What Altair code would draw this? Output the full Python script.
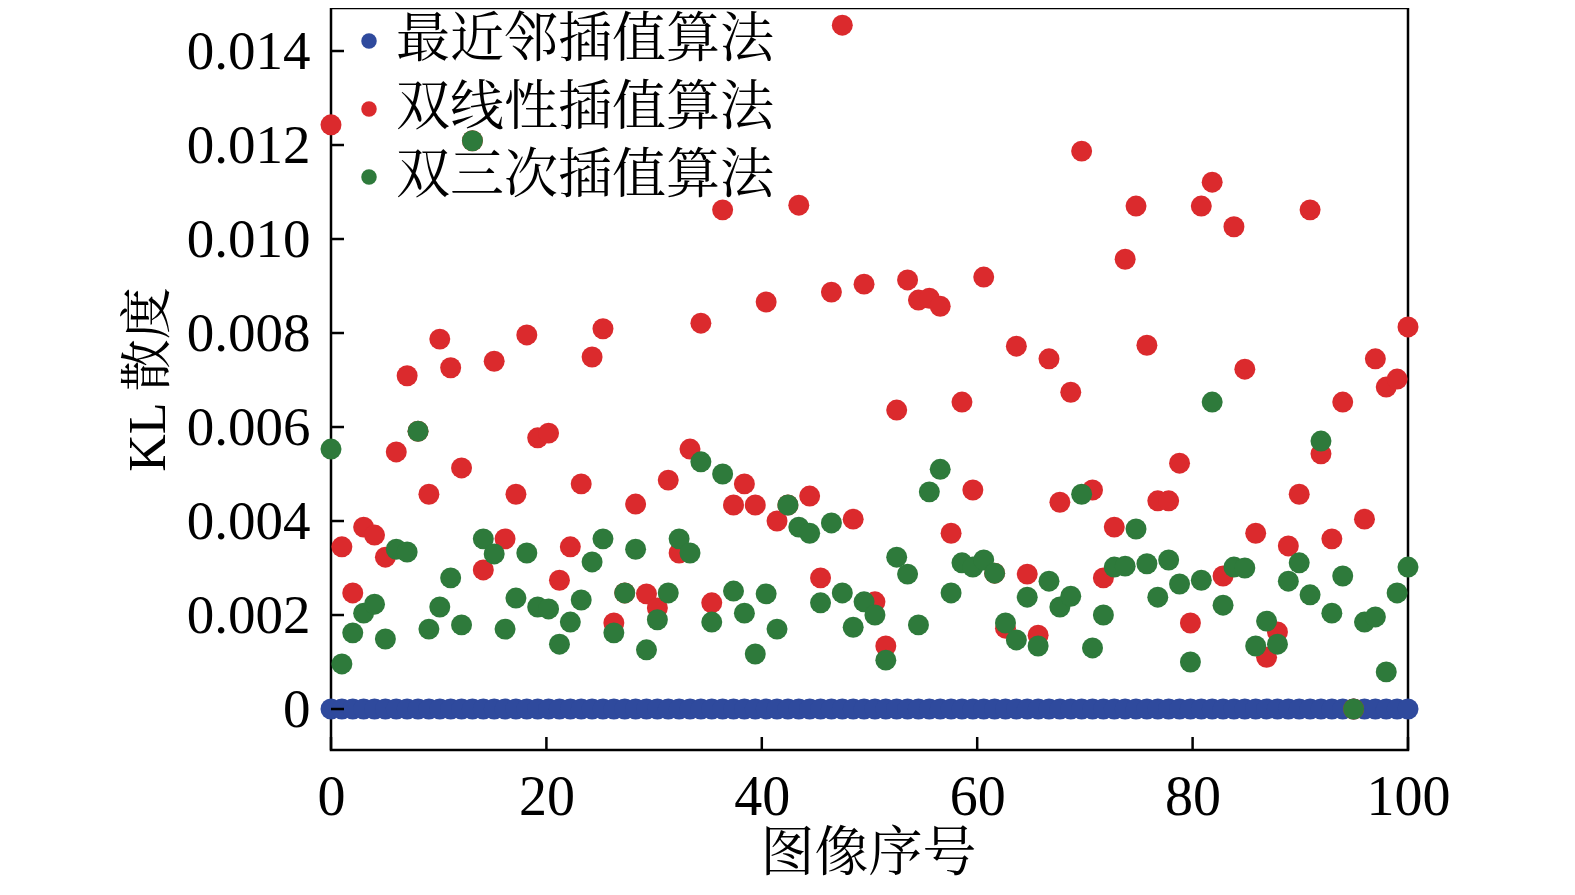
import altair as alt
import pandas as pd
import numpy as np

# ---- data ----
method_names = ["最近邻插值算法", "双线性插值算法", "双三次插值算法"]
method_colors = ["#2f4a9d", "#db2a2d", "#2e7a3b"]

nearest_vals = [0.0] * 100

bilinear_vals = [
    0.01243, 0.00345, 0.00247, 0.00387, 0.00370, 0.00323, 0.00547, 0.00709, 0.00591, 0.00457,
    0.00787, 0.00726, 0.00513, 0.01209, 0.00296, 0.00740, 0.00362, 0.00457, 0.00796, 0.00577,
    0.00587, 0.00274, 0.00345, 0.00479, 0.00749, 0.00809, 0.00183, 0.00247, 0.00436, 0.00245,
    0.00215, 0.00487, 0.00332, 0.00553, 0.00821, 0.00226, 0.01062, 0.00434, 0.00479, 0.00434,
    0.00866, 0.00400, 0.00434, 0.01072, 0.00453, 0.00279, 0.00887, 0.01455, 0.00404, 0.00904,
    0.00228, 0.00134, 0.00636, 0.00913, 0.00870, 0.00874, 0.00857, 0.00374, 0.00653, 0.00466,
    0.00919, 0.00289, 0.00172, 0.00772, 0.00287, 0.00157, 0.00745, 0.00440, 0.00674, 0.01187,
    0.00466, 0.00279, 0.00387, 0.00957, 0.01070, 0.00774, 0.00443, 0.00443, 0.00523, 0.00183,
    0.01070, 0.01121, 0.00283, 0.01026, 0.00723, 0.00374, 0.00110, 0.00164, 0.00347, 0.00457,
    0.01062, 0.00543, 0.00362, 0.00653, 0.00000, 0.00404, 0.00745, 0.00685, 0.00702, 0.00813,
]

bicubic_vals = [
    0.00553, 0.00096, 0.00162, 0.00204, 0.00223, 0.00149, 0.00340, 0.00334, 0.00591, 0.00170,
    0.00217, 0.00279, 0.00179, 0.01209, 0.00362, 0.00330, 0.00170, 0.00236, 0.00332, 0.00217,
    0.00213, 0.00138, 0.00185, 0.00232, 0.00313, 0.00362, 0.00162, 0.00247, 0.00340, 0.00126,
    0.00190, 0.00247, 0.00362, 0.00332, 0.00526, 0.00185, 0.00500, 0.00251, 0.00204, 0.00117,
    0.00245, 0.00170, 0.00434, 0.00387, 0.00374, 0.00226, 0.00396, 0.00247, 0.00174, 0.00228,
    0.00200, 0.00104, 0.00323, 0.00287, 0.00179, 0.00462, 0.00510, 0.00247, 0.00311, 0.00302,
    0.00317, 0.00289, 0.00183, 0.00147, 0.00238, 0.00134, 0.00272, 0.00217, 0.00240, 0.00457,
    0.00130, 0.00200, 0.00302, 0.00304, 0.00383, 0.00309, 0.00238, 0.00317, 0.00266, 0.00100,
    0.00274, 0.00653, 0.00221, 0.00302, 0.00300, 0.00134, 0.00187, 0.00138, 0.00272, 0.00311,
    0.00243, 0.00570, 0.00204, 0.00283, 0.00000, 0.00185, 0.00196, 0.00079, 0.00247, 0.00302,
]

y_tick_values = [0, 0.002, 0.004, 0.006, 0.008, 0.010, 0.012, 0.014]
x_tick_values = [0, 20, 40, 60, 80, 100]

# image index positions along the 0..100 axis (100 images)
x_pos = np.linspace(0, 100, 100)

rows = []
for k, (name, vals) in enumerate(zip(method_names, [nearest_vals, bilinear_vals, bicubic_vals])):
    for i, v in enumerate(vals):
        rows.append({"x": float(x_pos[i]), "y": v, "method": name, "k": k * 1000 + i})
df = pd.DataFrame(rows)

FONT = "Liberation Serif, Times New Roman, Noto Serif CJK SC, Noto Sans CJK SC"
W, H = 1077, 742

xscale = alt.Scale(domain=[0, 100], nice=False, zero=False)
yscale = alt.Scale(domain=[-0.000872, 0.014915], nice=False, zero=False)

points = alt.Chart(df).mark_circle(size=440, opacity=1).encode(
    x=alt.X("x:Q", scale=xscale, axis=alt.Axis(
        values=x_tick_values, title="图像序号", grid=False, domain=False, ticks=False,
        tickSize=0, labelFont=FONT, labelFontSize=56, labelColor="black",
        labelPadding=20, labelFlush=False,
        titleFont=FONT, titleFontSize=54, titleFontWeight="normal", titleColor="black",
        titleX=537, titleY=104, titleBaseline="middle", titleAlign="center")),
    y=alt.Y("y:Q", scale=yscale, axis=alt.Axis(
        values=y_tick_values, title="KL 散度", grid=False, domain=False, ticks=False,
        tickSize=0, labelFont=FONT, labelFontSize=55, labelColor="black",
        labelPadding=21, labelFlush=False,
        labelExpr="datum.value == 0 ? '0' : format(datum.value, '.3f')",
        titleFont=FONT, titleFontSize=52, titleFontWeight="normal", titleColor="black",
        titleX=-183, titleY=371, titleAngle=270, titleBaseline="middle", titleAlign="center")),
    color=alt.Color("method:N", scale=alt.Scale(domain=method_names, range=method_colors),
                    legend=alt.Legend(
                        title=None, orient="none", legendX=-3, legendY=6, padding=0,
                        labelFont=FONT, labelFontSize=54, labelColor="black", labelLimit=0,
                        symbolType="circle", symbolSize=240, symbolStrokeWidth=0,
                        symbolOffset=14, labelOffset=0, rowPadding=14)),
    order=alt.Order("k:Q"),
)

ytick_df = pd.DataFrame({"v": y_tick_values})
xtick_df = pd.DataFrame({"t": x_tick_values})

yticks = alt.Chart(ytick_df).mark_rule(color="black", strokeWidth=2.5).encode(
    y=alt.Y("v:Q", scale=yscale), x=alt.value(0), x2=alt.value(13))
xticks = alt.Chart(xtick_df).mark_rule(color="black", strokeWidth=2.5).encode(
    x=alt.X("t:Q", scale=xscale), y=alt.value(H), y2=alt.value(H - 13))

chart = alt.layer(points, yticks, xticks).properties(
    width=W, height=H,
    background="white",
    autosize=alt.AutoSizeParams(type="none"),
    padding={"left": 323, "top": 0, "right": 150, "bottom": 137},
).configure_view(stroke="black", strokeWidth=2.5)

chart.save("out.html", embed_options={"renderer": "svg", "actions": False})
